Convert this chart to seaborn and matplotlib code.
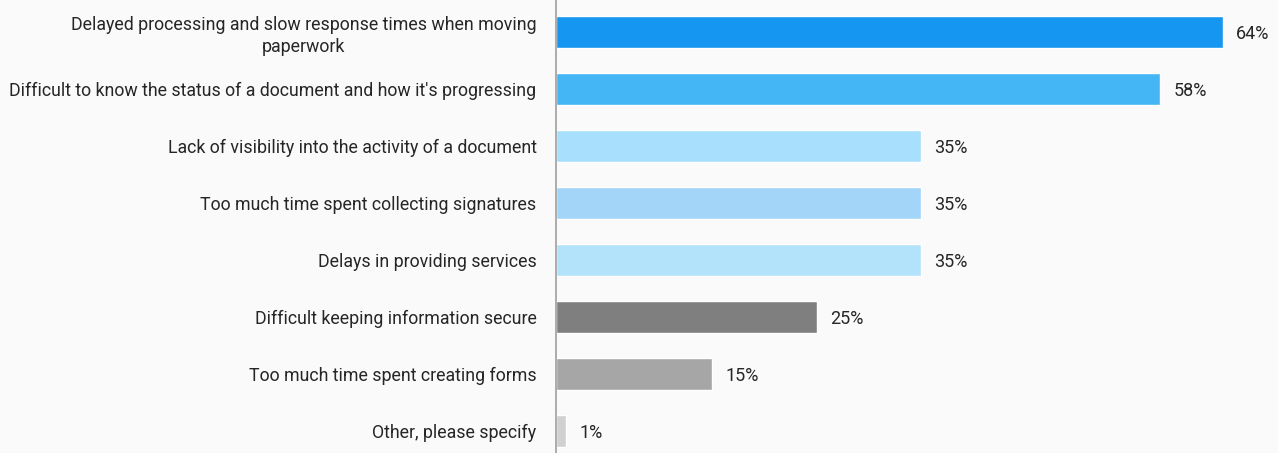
import matplotlib
matplotlib.use("Agg")
import matplotlib.pyplot as plt
import seaborn as sns
import pandas as pd

categories = [
    "Delayed processing and slow response times when moving\npaperwork",
    "Difficult to know the status of a document and how it's progressing",
    "Lack of visibility into the activity of a document",
    "Too much time spent collecting signatures",
    "Delays in providing services",
    "Difficult keeping information secure",
    "Too much time spent creating forms",
    "Other, please specify",
]
values = [64, 58, 35, 35, 35, 25, 15, 1]
bar_colors = ["#1596f0", "#45b6f5", "#a8dffc", "#a3d5f9", "#b3e3fb",
              "#7f7f7f", "#a6a6a6", "#d0d0d0"]

df = pd.DataFrame({"category": categories, "value": values})

sns.set_theme(style="white")
plt.rcParams["font.family"] = ["Roboto", "DejaVu Sans"]

bg = "#fafafa"
fig = plt.figure(figsize=(12.78, 4.53), dpi=100, facecolor=bg)
ax = fig.add_axes([556 / 1278, 0, 722 / 1278, 1])
ax.set_facecolor(bg)

sns.barplot(data=df, x="value", y="category", hue="category",
            palette=bar_colors, legend=False, width=0.56,
            orient="h", ax=ax, saturation=1)

ax.set_xlim(0, 722 / 10.42)
ax.set_ylim(7.386, -0.561)
ax.set_xlabel("")
ax.set_ylabel("")
ax.set_xticks([])
for side in ("top", "right", "bottom"):
    ax.spines[side].set_visible(False)
ax.spines["left"].set_color("#9e9e9e")
ax.spines["left"].set_linewidth(1.2)

ax.tick_params(axis="y", length=0, pad=14, labelsize=12.8, labelcolor="#262626")
for lbl in ax.get_yticklabels():
    lbl.set_multialignment("center")
    lbl.set_linespacing(1.3)

for i, v in enumerate(values):
    ax.annotate(f"{v}%", xy=(v, i), xytext=(9.5, 0), textcoords="offset points",
                va="center_baseline", ha="left", fontsize=13, color="#262626")

fig.savefig("out.png", dpi=100, facecolor=bg)
